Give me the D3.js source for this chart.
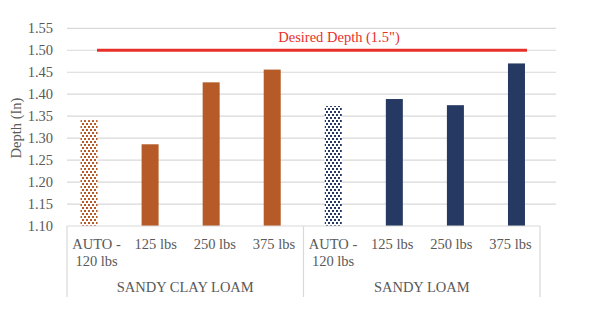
<!DOCTYPE html>
<html><head><meta charset="utf-8">
<script src="https://cdn.jsdelivr.net/npm/d3@7"></script>
<style>body{margin:0;background:#fff}svg{display:block}svg text{font-family:'Liberation Serif','Times New Roman',Times,serif !important}</style>
</head><body><svg id="c" width="600" height="323"></svg>
<script>
const groups = ["SANDY CLAY LOAM", "SANDY LOAM"];
const categories = ["AUTO -\n120 lbs", "125 lbs", "250 lbs", "375 lbs"];
const sandyClayLoam = [1.341, 1.286, 1.427, 1.456];
const sandyLoam = [1.373, 1.389, 1.375, 1.470];
const yTicks = [1.10, 1.15, 1.20, 1.25, 1.30, 1.35, 1.40, 1.45, 1.50, 1.55];
const targetDepth = 1.5;
const targetLabel = 'Desired Depth (1.5")';
const yTitle = "Depth (In)";

const FONT = "'Liberation Serif','Times New Roman',Times,serif";
const FS = 14.5;
const colors = {"SANDY CLAY LOAM": "#b65b28", "SANDY LOAM": "#253962"};
const data = [];
groups.forEach((g, gi) => {
  const vals = gi === 0 ? sandyClayLoam : sandyLoam;
  categories.forEach((c, ci) => data.push({key: g + "|" + c, group: g, cat: c, value: vals[ci], pattern: ci === 0, gi}));
});

const svg = d3.select("#c");
const defs = svg.append("defs");
groups.forEach((g, gi) => {
  const p = defs.append("pattern").attr("id", "pat" + gi).attr("patternUnits", "userSpaceOnUse")
    .attr("width", 4).attr("height", 6);
  p.append("rect").attr("width", 4).attr("height", 6).attr("fill", "#fff");
  p.append("rect").attr("x", 0).attr("y", 0).attr("width", 2).attr("height", 2).attr("fill", colors[g]);
  p.append("rect").attr("x", 2).attr("y", 3).attr("width", 2).attr("height", 2).attr("fill", colors[g]);
});

const y = d3.scaleLinear().domain([1.10, 1.55]).range([226, 28.3]);
const xBar = d3.scaleBand().domain(data.map(d => d.key)).range([58.5, 547]);
const xLab = d3.scaleBand().domain(data.map(d => d.key)).range([67, 540]);
const xGroup = d3.scaleBand().domain(groups).range([67, 540]);

// gridlines
svg.append("g").selectAll("line").data(yTicks.slice(1)).join("line")
  .attr("x1", 67).attr("x2", 556).attr("y1", d => y(d)).attr("y2", d => y(d))
  .attr("stroke", "#d9d9d9").attr("stroke-width", 1.2);

// y axis labels
const yAxis = d3.axisLeft(y).tickValues(yTicks).tickFormat(d3.format(".2f")).tickSize(0).tickPadding(0);
const ya = svg.append("g").attr("transform", "translate(53,0)").call(yAxis).attr("font-family", FONT);
ya.select(".domain").remove();
ya.selectAll("text").attr("font-size", FS).attr("fill", "#595959").style("font-family", FONT);

svg.append("text").attr("transform", "translate(21,128) rotate(-90)").attr("text-anchor", "middle")
  .attr("font-size", FS).attr("fill", "#595959").style("font-family", FONT).text(yTitle);

// bars
svg.append("g").selectAll("rect").data(data).join("rect")
  .attr("x", d => xBar(d.key) + xBar.bandwidth() / 2 - 8.5).attr("width", 17)
  .attr("y", d => y(d.value)).attr("height", d => y(1.10) - y(d.value))
  .attr("fill", d => d.pattern ? "url(#pat" + d.gi + ")" : colors[d.group]);

// category box
const box = svg.append("g").attr("stroke", "#d9d9d9").attr("stroke-width", 1.2);
box.append("line").attr("x1", 67).attr("x2", 540).attr("y1", 226).attr("y2", 226);
[67, xGroup("SANDY LOAM"), 540].forEach(x => box.append("line").attr("x1", x).attr("x2", x).attr("y1", 226).attr("y2", 297));

// category labels
const lab = svg.append("g").selectAll("text").data(data).join("text")
  .attr("text-anchor", "middle").attr("font-size", FS).attr("fill", "#595959").style("font-family", FONT);
lab.each(function(d) {
  const lines = d.cat.split("\n");
  const t = d3.select(this);
  lines.forEach((l, i) => t.append("tspan").attr("x", xLab(d.key) + xLab.bandwidth() / 2).attr("y", 249 + i * 17).text(l));
});

svg.append("g").selectAll("text").data(groups).join("text")
  .attr("x", d => xGroup(d) + xGroup.bandwidth() / 2).attr("y", 292)
  .attr("text-anchor", "middle").attr("font-size", FS).attr("fill", "#595959").style("font-family", FONT).text(d => d);

// target line
svg.append("line").attr("x1", 97).attr("x2", 527).attr("y1", y(targetDepth)).attr("y2", y(targetDepth))
  .attr("stroke", "#e8302a").attr("stroke-width", 3);
svg.append("text").attr("x", 339).attr("y", 42).attr("text-anchor", "middle")
  .attr("font-size", FS).attr("fill", "#e8302a").style("font-family", FONT).text(targetLabel);
</script></body></html>
